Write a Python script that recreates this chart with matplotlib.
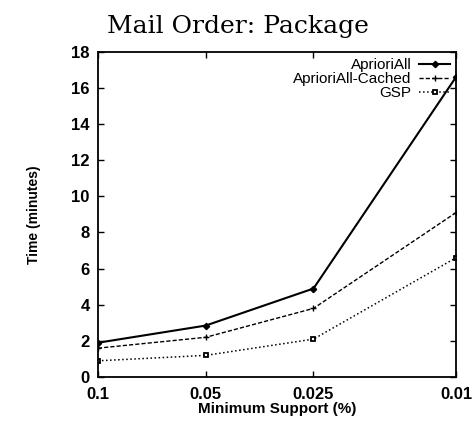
import numpy as np
import matplotlib.pyplot as plt
from matplotlib.ticker import FixedLocator, NullLocator, FixedFormatter

# Data
support = [0.1, 0.05, 0.025, 0.01]
support_labels = ["0.1", "0.05", "0.025", "0.01"]
apriori_all = [1.9, 2.85, 4.9, 16.6]
apriori_cached = [1.6, 2.2, 3.8, 9.1]
gsp = [0.9, 1.2, 2.1, 6.6]

fig = plt.figure(figsize=(4.73, 4.28), dpi=100)
ax = fig.add_axes([0.207, 0.119, 0.757, 0.76])

ax.plot(support, apriori_all, "-", color="black", lw=1.5, marker="D", ms=3.2,
        label="AprioriAll")
ax.plot(support, apriori_cached, "--", color="black", lw=1.0, marker="+", ms=4,
        dashes=(3, 1.5), label="AprioriAll-Cached")
ax.plot(support, gsp, ":", color="black", lw=1.1, marker="s", ms=3.2,
        markerfacecolor="white", markeredgewidth=1.3, label="GSP")

ax.set_xscale("log")
ax.set_xlim(0.1, 0.01)
ax.set_ylim(0, 18)
ax.xaxis.set_major_locator(FixedLocator(support))
ax.xaxis.set_major_formatter(FixedFormatter(support_labels))
ax.xaxis.set_minor_locator(NullLocator())
ax.set_yticks(range(0, 19, 2))

tick_font = dict(family="Liberation Sans", weight="bold", size=12)
for lab in ax.get_xticklabels() + ax.get_yticklabels():
    lab.set_fontproperties(tick_font)
ax.tick_params(axis="x", pad=7)
ax.tick_params(direction="in", length=4, width=1, top=True, right=True)
ax.tick_params(axis="y", pad=6)
for s in ax.spines.values():
    s.set_linewidth(1.3)

ax.set_xlabel("Minimum Support (%)", fontdict=dict(family="Liberation Sans",
              weight="bold", size=11), labelpad=0)
ax.set_ylabel("Time (minutes)", fontdict=dict(family="Liberation Sans",
              weight="bold", size=10), labelpad=22)
fig.text(0.503, 0.965, "Mail Order: Package", family="DejaVu Serif",
         size=18, ha="center", va="top")

leg = ax.legend(loc="upper right", frameon=False, markerfirst=False,
                prop=dict(family="Liberation Sans", size=11),
                handlelength=2.0, borderaxespad=0.2, labelspacing=0.0,
                handletextpad=0.5, borderpad=0.2)
for t in leg.get_texts():
    t.set_ha("right")
leg._legend_box.align = "right"

fig.savefig("out.png", dpi=100)
